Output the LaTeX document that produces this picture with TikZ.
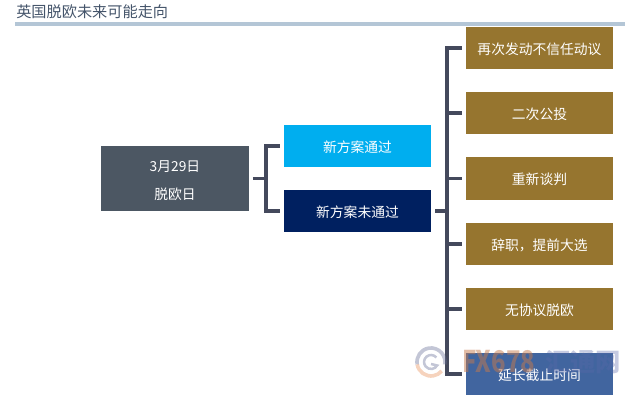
\documentclass[tikz,border=0pt]{standalone}
\usepackage{fontspec}
\setmainfont{Noto Sans CJK SC}
\definecolor{goldbox}{HTML}{96752F}
\definecolor{slatebox}{HTML}{4C5763}
\definecolor{skybox}{HTML}{00AEEF}
\definecolor{navybox}{HTML}{002060}
\definecolor{steelbox}{HTML}{41659F}
\definecolor{branchline}{HTML}{44495C}
\definecolor{titleline}{HTML}{B4C6D6}
\definecolor{titletext}{HTML}{44546A}
\definecolor{markorange}{HTML}{E8905A}
\definecolor{markblue}{HTML}{5A68A8}
\tikzset{
	planbox/.style={text=white, font=\fontsize{9.8pt}{12pt}\selectfont, inner sep=0pt, outer xsep=0.1cm, minimum width=3.69cm, minimum height=1.05cm},
	rowbox/.style={planbox, text height=10pt, text depth=1pt},
	branch/.style={draw=branchline, line width=2.4pt},
	markring/.style={line width=2.6pt, opacity=0.4},
}
\begin{document}
\begin{tikzpicture}[x=0.025cm, y=-0.025cm]
	\useasboundingbox (0,0) rectangle (640,400);
	
	% title
	\node [anchor=west, text=titletext, font=\fontsize{10.8pt}{13pt}\selectfont, inner sep=0pt] (title) at (16,12) {英国脱欧未来可能走向};
	\coordinate (ruleL) at (15,24);
	\coordinate (ruleR) at (625,24);
	\draw [titleline, line width=2.2pt] (ruleL) -- (ruleR);
	
	% first level
	\node [planbox, fill=slatebox, minimum height=1.63cm, align=center] (date) at (175,178.5) {\rule{0pt}{10.5pt}3月29日\\[8pt]脱欧日};
	\node [rowbox, fill=skybox] (pass) at (357.5,146) {新方案通过};
	\node [rowbox, fill=navybox] (fail) at (357.5,211) {新方案未通过};
	
	% second level
	\node [rowbox, fill=goldbox] (revote) at (539.5,48) {再次发动不信任动议};
	\node [rowbox, fill=goldbox] (second) at (539.5,113) {二次公投};
	\node [rowbox, fill=goldbox] (talks) at (539.5,178.5) {重新谈判};
	\node [rowbox, fill=goldbox] (resign) at (539.5,244) {辞职，提前大选};
	\node [rowbox, fill=goldbox] (nodeal) at (539.5,309) {无协议脱欧};
	\node [rowbox, fill=steelbox] (delay) at (539.5,374) {延长截止时间};
	
	% brackets
	\coordinate (spineA) at (266,178.5);
	\coordinate (spineB) at (447,211);
	\draw [branch] (date.east) -- (spineA);
	\draw [branch] (pass.west) -| (spineA) |- (fail.west);
	\draw [branch] (fail.east) -- (spineB);
	\draw [branch] (revote.west) -| (spineB) |- (delay.west);
	\draw [branch] (spineB) |- (second.west);
	\draw [branch] (spineB) |- (talks.west);
	\draw [branch] (spineB) |- (resign.west);
	\draw [branch] (spineB) |- (nodeal.west);
	
	% watermark
	\draw [markring, markblue!60!gray] (417.2,364.4) arc [start angle=190, end angle=-10, radius=0.35cm];
	\draw [markring, markorange] (417.2,364.4) arc [start angle=190, end angle=320, radius=0.35cm];
	\draw [markring, markblue!60!gray, line width=1.8pt] (436.4,357.5) arc [start angle=40, end angle=330, radius=0.175cm] -- (431,364);
	\node [anchor=west, text=markorange!85!black, opacity=0.5, font=\fontsize{17pt}{20pt}\selectfont\bfseries, inner sep=0pt] (markFX) at (462,362) {\scalebox{1}[1.25]{FX678}};
	\node [anchor=west, text=markblue, opacity=0.35, font=\fontsize{18pt}{20pt}\selectfont\bfseries, inner sep=0pt] (markCN) at (545,362) {汇通网};
	
\end{tikzpicture}
\end{document}
